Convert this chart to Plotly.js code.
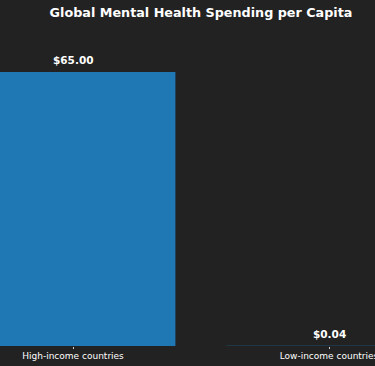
<!DOCTYPE html>
<html>
<head>
<meta charset="utf-8">
<script src="https://cdn.plot.ly/plotly-3.0.1.min.js"></script>
<style>html,body{margin:0;padding:0;background:#222222;}#chart{width:375px;height:366px;}</style>
</head>
<body>
<div id="chart"></div>
<script>
const categories = ["High-income countries", "Low-income countries"];
const spending = [65.00, 0.04];
const valueLabels = ["$65.00", "$0.04"];

const trace = {
  type: "bar",
  x: categories,
  y: spending,
  marker: { color: "#1f77b4" },
  cliponaxis: false,
  hoverinfo: "none"
};

const labelAnnotations = categories.map((c, i) => ({
  x: c,
  y: spending[i],
  xref: "x",
  yref: "y",
  text: valueLabels[i],
  showarrow: false,
  xanchor: "center",
  yanchor: "bottom",
  yshift: 4,
  font: { family: "DejaVu Sans", size: 10.5, color: "#ffffff", weight: 700 }
}));

const layout = {
  width: 375,
  height: 366,
  paper_bgcolor: "#222222",
  plot_bgcolor: "#222222",
  margin: { l: 0, r: 0, t: 30, b: 20, pad: 0 },
  font: { family: "DejaVu Sans", color: "#ffffff" },
  title: {
    text: "Global Mental Health Spending per Capita",
    font: { family: "DejaVu Sans", size: 12.75, color: "#ffffff", weight: 700 },
    x: 0.536, xanchor: "center", xref: "paper",
    y: 0.9645, yanchor: "middle", yref: "container"
  },
  xaxis: {
    range: [-0.2852, 1.1797],
    showgrid: false, zeroline: false, showline: false,
    ticks: "outside", ticklen: 2, tickcolor: "#cccccc",
    ticklabelstandoff: -1,
    tickfont: { family: "DejaVu Sans", size: 9, color: "#ffffff" },
    automargin: false
  },
  yaxis: {
    range: [0, 74.96],
    visible: false, showgrid: false, zeroline: false,
    automargin: false
  },
  annotations: labelAnnotations,
  bargap: 0.2,
  showlegend: false
};

Plotly.newPlot("chart", [trace], layout, { displayModeBar: false, staticPlot: true });
</script>
</body>
</html>
